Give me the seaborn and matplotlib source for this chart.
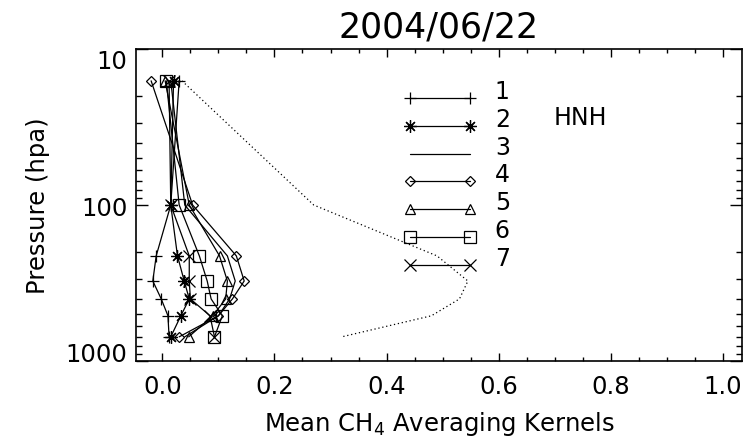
import matplotlib
matplotlib.use("Agg")
import matplotlib.pyplot as plt
import seaborn as sns
import pandas as pd
import numpy as np
from matplotlib.ticker import FixedLocator, MultipleLocator, NullFormatter, FixedFormatter, LogLocator
from matplotlib.legend_handler import HandlerLine2D

# ---- data ----
pressure = [16, 100, 212, 307, 400, 513, 700]
ak1 = [0.030, 0.015, -0.011, -0.017, -0.002, 0.010, 0.012]
ak2 = [0.020, 0.015, 0.027, 0.039, 0.048, 0.033, 0.015]
ak3 = [0.015, 0.040, 0.116, 0.130, 0.120, 0.100, 0.040]
ak4 = [-0.020, 0.054, 0.132, 0.146, 0.125, 0.100, 0.030]
ak5 = [0.005, 0.048, 0.102, 0.116, 0.113, 0.090, 0.047]
ak6 = [0.007, 0.030, 0.066, 0.080, 0.087, 0.107, 0.093]
ak7 = [0.012, 0.015, 0.048, 0.048, 0.050, 0.085, 0.093]
ak_sum = [0.035, 0.270, 0.490, 0.545, 0.530, 0.480, 0.320]
series_labels = ["1", "2", "3", "4", "5", "6", "7"]
x_ticks = [0.0, 0.2, 0.4, 0.6, 0.8, 1.0]
x_tick_labels = ["0.0", "0.2", "0.4", "0.6", "0.8", "1.0"]
y_ticks = [10, 100, 1000]
y_tick_labels = ["10", "100", "1000"]
title = "2004/06/22"
region = "HNH"

sns.set_theme(style="ticks")
plt.rcParams["font.family"] = ["DejaVu Sans"]
plt.rcParams["mathtext.fontset"] = "dejavusans"
plt.rcParams["text.color"] = "black"
plt.rcParams["axes.labelcolor"] = "black"

fig = plt.figure(figsize=(7.43, 4.39), dpi=100)
fig.patch.set_facecolor("white")
ax = fig.add_axes([136 / 743, 1 - 362 / 439, 606 / 743, 312 / 439])
ax.set_facecolor("white")

styles = [
    dict(marker="+", markersize=9),
    dict(marker=(8, 2, 0), markersize=9),
    dict(marker="None"),
    dict(marker="D", markersize=5),
    dict(marker="^", markersize=7),
    dict(marker="s", markersize=8),
    dict(marker="x", markersize=8),
]
series = [ak1, ak2, ak3, ak4, ak5, ak6, ak7]

handles = []
for vals, lab, st in zip(series, series_labels, styles):
    df = pd.DataFrame({"ak": vals, "p": pressure})
    sns.lineplot(data=df, x="ak", y="p", orient="y", ax=ax, color="black",
                 linewidth=0.9, markerfacecolor="none", markeredgecolor="black",
                 markeredgewidth=0.9, errorbar=None, legend=False, label=lab, **st)
    handles.append(ax.lines[-1])

df_sum = pd.DataFrame({"ak": ak_sum, "p": pressure})
sns.lineplot(data=df_sum, x="ak", y="p", orient="y", ax=ax, color="black",
             linewidth=0.9, dashes=False, errorbar=None, legend=False)
ax.lines[-1].set_dashes((1.0, 2.2))

ax.set_yscale("log")
ax.set_ylim(1000, 10)
ax.set_xlim(-0.047, 1.034)

ax.xaxis.set_major_locator(FixedLocator(x_ticks))
ax.xaxis.set_major_formatter(FixedFormatter(x_tick_labels))
ax.xaxis.set_minor_locator(MultipleLocator(0.05))
ax.yaxis.set_major_locator(FixedLocator(y_ticks))
ax.yaxis.set_major_formatter(FixedFormatter(y_tick_labels))
ax.yaxis.set_minor_locator(LogLocator(base=10, subs=np.arange(2, 10)))
ax.yaxis.set_minor_formatter(NullFormatter())

ax.tick_params(which="both", direction="in", top=True, right=True, colors="black",
               labelsize=17.5, width=1.0)
ax.tick_params(axis="x", which="major", length=5.8, pad=9.5)
ax.tick_params(axis="x", which="minor", length=2.9)
ax.tick_params(axis="y", which="major", length=8.6, pad=6)
ax.tick_params(axis="y", which="minor", length=4.3)
for sp in ax.spines.values():
    sp.set_linewidth(1.2)
    sp.set_color("black")
    sp.set_visible(True)

for t, v in zip(ax.yaxis.get_major_ticks(), y_ticks):
    if v == 10:
        t.label1.set_va("top")
    elif v == 1000:
        t.label1.set_va("baseline")

ax.set_title(title, fontsize=25, pad=9, color="black")
ax.set_xlabel("Mean CH$_4$ Averaging Kernels", fontsize=17.5, color="black", va="top")
ax.xaxis.set_label_coords(0.5, (362 - 410) / 312)
ax.set_ylabel("Pressure (hpa)", fontsize=17.5, color="black")
ax.yaxis.set_label_coords((50 - 136) / 606, 0.5)

class BaselineHandler(HandlerLine2D):
    def create_artists(self, legend, orig_handle, xdescent, ydescent, width, height, fontsize, trans):
        return super().create_artists(legend, orig_handle, xdescent, ydescent, width,
                                      ydescent, fontsize, trans)

leg = ax.legend(handles=handles, labels=series_labels, loc="upper left",
                bbox_to_anchor=(410 / 743, 1 - 80 / 439), bbox_transform=fig.transFigure,
                frameon=False, fontsize=17, numpoints=2, handlelength=2.54,
                handletextpad=1.05, labelspacing=0.16, borderpad=0, borderaxespad=0,
                handler_map={h: BaselineHandler(marker_pad=0) for h in handles})
for t in leg.get_texts():
    t.set_color("black")

ax.text((554 - 136) / 606, 1 - (118 - 50) / 312, region, transform=ax.transAxes,
        fontsize=17, ha="left", va="center", color="black")

fig.savefig("out.png", dpi=100, facecolor="white")
